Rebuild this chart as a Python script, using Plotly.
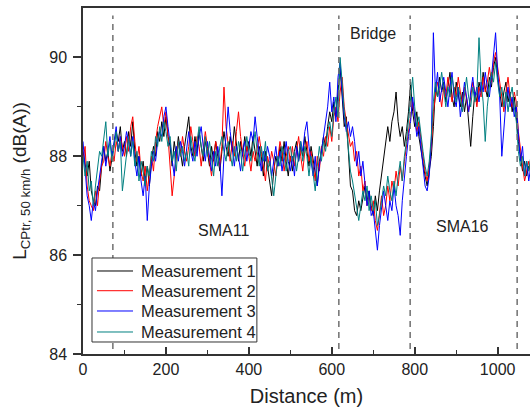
import plotly.graph_objects as go

distance = list(range(0, 1085, 5))

m1 = [
88.1, 87.8, 87.6, 87.9, 87.3, 87.1, 87.0, 87.4, 87.3, 87.8,
88.2, 87.9, 88.1, 87.7, 88.0, 88.2, 88.5, 88.3, 88.6, 88.1,
88.3, 88.0, 88.5, 88.2, 88.7, 88.1, 87.8, 88.0, 87.6, 87.9,
87.5, 87.8, 87.4, 87.9, 88.2, 88.0, 88.5, 88.3, 88.7, 88.4,
88.8, 88.4, 88.2, 87.8, 88.3, 88.0, 88.4, 88.1, 87.8, 88.2,
88.5, 88.8, 88.2, 88.0, 88.4, 88.1, 88.5, 88.2, 87.9, 88.3,
88.1, 87.8, 88.2, 87.9, 88.3, 88.0, 87.7, 88.1, 88.5, 88.2,
88.0, 88.4, 88.1, 88.6, 88.2, 87.9, 88.3, 88.0, 88.4, 88.1,
88.3, 88.0, 88.4, 88.1, 87.8, 88.2, 88.0, 87.6, 88.1, 87.8,
87.5, 87.2, 87.7, 88.0, 87.8, 88.2, 87.9, 88.3, 87.9, 87.6,
88.0, 87.7, 88.1, 88.3, 87.9, 88.2, 88.0, 88.4, 88.1, 87.8,
88.2, 87.9, 87.6, 87.4, 87.9, 88.1, 88.4, 88.2, 88.6, 88.9,
88.7, 89.1, 88.8, 89.4, 89.8, 89.2, 88.6, 88.8, 88.1, 87.4,
87.3, 86.9, 86.8, 87.1, 86.9, 87.2, 87.4, 87.1, 87.3, 87.0,
86.8, 87.2, 86.9, 87.3, 87.6, 87.9, 88.2, 88.6, 88.3, 88.7,
88.9, 89.3, 88.7, 88.4, 88.6, 88.2, 88.5, 88.9, 89.5, 88.9,
88.6, 88.9, 88.4, 88.1, 87.9, 87.6, 87.4, 87.7, 88.0, 88.6,
89.4, 89.2, 89.6, 89.3, 89.5, 89.1, 89.4, 89.7, 89.2, 89.0,
89.5, 89.2, 89.0, 89.3, 88.9, 89.2, 88.7, 88.2, 88.8, 89.3,
89.1, 89.5, 89.3, 89.7, 89.4, 89.2, 89.6, 89.4, 89.8, 90.0,
89.6, 89.3, 89.0, 89.3, 89.5, 89.1, 89.3, 88.9, 89.2, 88.8,
88.3, 88.0, 87.7, 87.9, 87.6, 87.8, 87.7]

m2 = [
87.9, 88.2, 87.4, 87.1, 87.0, 86.9, 87.3, 87.0, 87.5, 87.8,
87.9, 88.3, 88.0, 87.8, 88.1, 87.9, 88.3, 88.1, 88.4, 88.2,
88.0, 88.4, 88.1, 88.6, 88.8, 88.3, 87.9, 88.2, 87.7, 87.5,
87.8, 87.3, 87.6, 88.0, 87.7, 88.3, 88.6, 88.8, 89.0, 88.6,
88.9, 88.4, 87.8, 87.2, 87.6, 88.0, 88.3, 88.0, 88.4, 88.1,
87.9, 88.2, 88.6, 88.3, 88.0, 88.4, 88.2, 87.8, 88.1, 88.5,
88.2, 87.9, 87.6, 88.0, 88.3, 88.1, 87.8, 88.2, 89.4, 88.6,
88.2, 87.9, 88.3, 88.0, 88.5, 88.9, 88.4, 88.1, 87.8, 88.2,
88.0, 87.7, 88.1, 87.9, 88.2, 88.4, 88.1, 87.8, 87.5, 88.0,
87.8, 88.1, 87.9, 87.6, 88.0, 88.3, 88.1, 87.7, 88.0, 88.2,
87.9, 88.2, 87.8, 88.1, 88.4, 88.0, 87.7, 88.1, 88.3, 87.9,
88.1, 87.8, 87.5, 88.0, 87.7, 88.2, 88.0, 88.4, 88.2, 88.6,
88.3, 88.8, 89.0, 88.7, 89.3, 89.6, 89.0, 88.7, 88.4, 88.2,
88.3, 87.9, 88.1, 87.6, 87.8, 87.3, 87.5, 87.0, 87.2, 86.9,
87.1, 86.7, 86.5, 86.9, 87.2, 86.8, 87.0, 87.4, 87.1, 87.5,
87.3, 87.7, 87.4, 87.8, 87.5, 87.9, 88.2, 88.5, 88.8, 89.1,
88.8, 88.5, 88.7, 88.3, 88.0, 87.7, 87.5, 87.8, 88.2, 88.9,
89.2, 89.5, 89.3, 89.0, 89.4, 89.2, 89.6, 89.3, 89.1, 89.4,
89.2, 89.6, 89.3, 89.0, 89.4, 89.1, 88.9, 89.2, 89.5, 89.3,
89.0, 89.4, 89.2, 89.6, 89.3, 89.5, 89.8, 89.5, 89.9, 90.1,
89.8, 89.4, 89.2, 88.9, 89.3, 89.6, 89.2, 89.0, 89.3, 89.1,
88.5, 88.1, 87.8, 87.5, 87.7, 87.9, 87.6]

m3 = [
88.3, 87.7, 87.2, 87.0, 86.7, 87.1, 86.9, 87.3, 87.6, 88.0,
88.2, 87.8, 88.1, 88.4, 88.0, 88.3, 88.6, 88.1, 88.4, 88.0,
88.2, 88.5, 88.3, 88.0, 88.4, 87.9, 87.6, 88.0, 87.5, 87.2,
87.6, 86.7, 87.4, 87.8, 88.1, 87.9, 88.3, 88.5, 88.4, 88.8,
89.0, 88.6, 88.3, 88.0, 87.6, 88.2, 87.9, 88.3, 88.1, 87.8,
88.2, 88.5, 88.1, 87.9, 88.3, 88.0, 88.4, 88.6, 88.2, 87.9,
88.3, 88.0, 87.7, 88.1, 87.8, 88.2, 87.9, 87.2, 88.0, 88.4,
89.0, 88.5, 88.1, 87.8, 88.2, 88.0, 87.7, 88.1, 88.3, 87.9,
88.2, 88.5, 88.3, 88.8, 88.4, 88.0, 87.7, 88.1, 87.9, 88.2,
88.0, 87.6, 87.9, 88.2, 87.8, 88.1, 87.7, 88.0, 88.3, 87.9,
87.7, 88.0, 87.6, 88.2, 87.9, 88.3, 88.1, 88.5, 88.7, 88.2,
87.9, 87.6, 88.0, 87.4, 87.8, 88.1, 88.4, 88.6, 89.0, 89.5,
88.9, 89.2, 88.7, 89.6, 89.9, 89.3, 88.8, 88.5, 88.7, 88.4,
88.6, 88.3, 87.8, 88.1, 87.6, 87.9, 87.4, 87.0, 87.3, 86.8,
86.9, 86.5, 86.1, 86.6, 86.9, 87.3, 87.0, 86.7, 87.1, 86.9,
87.4, 87.0, 86.8, 86.4, 87.1, 87.6, 88.0, 88.4, 88.7, 89.2,
88.8, 88.4, 88.6, 88.2, 87.8, 87.4, 87.3, 87.6, 88.3, 90.5,
89.3, 89.7, 89.1, 89.4, 89.6, 89.3, 89.0, 89.4, 89.7, 89.2,
89.0, 89.4, 88.8, 89.1, 89.5, 89.2, 88.9, 89.3, 89.6, 89.2,
89.4, 89.1, 89.5, 89.3, 89.7, 89.4, 89.2, 89.6, 90.0, 90.5,
89.7, 89.2, 88.0, 88.6, 89.1, 89.4, 89.0, 89.2, 88.8, 89.0,
88.4, 87.9, 88.2, 87.6, 87.9, 87.5, 87.8]

m4 = [
88.0, 87.6, 87.9, 87.3, 87.5, 87.0, 87.4, 87.8, 88.1, 88.0,
88.4, 88.7, 88.0, 88.3, 87.9, 88.2, 88.5, 88.1, 88.3, 87.3,
87.7, 88.1, 88.4, 88.0, 88.3, 87.8, 88.1, 87.5, 87.9, 87.7,
87.4, 87.8, 87.6, 88.1, 87.9, 88.4, 88.2, 88.6, 88.3, 88.7,
88.5, 88.2, 88.4, 87.9, 88.1, 87.7, 88.3, 88.0, 88.2, 87.9,
88.1, 87.8, 88.4, 88.1, 87.9, 88.3, 88.6, 88.2, 88.0, 88.4,
88.0, 88.3, 87.9, 87.6, 88.1, 87.8, 88.2, 88.4, 88.1, 87.9,
88.3, 88.0, 87.8, 88.2, 87.9, 88.3, 88.1, 87.7, 88.0, 88.4,
88.1, 87.9, 88.2, 88.5, 88.1, 87.8, 88.2, 87.9, 88.3, 87.7,
87.9, 87.5, 87.2, 87.6, 88.0, 87.8, 88.2, 88.0, 87.7, 88.1,
88.2, 87.9, 88.1, 87.7, 88.0, 88.3, 87.9, 88.2, 88.0, 87.6,
88.0, 87.7, 87.3, 87.8, 88.2, 87.9, 88.3, 88.1, 88.5, 88.7,
88.4, 88.9, 89.2, 88.8, 90.0, 89.5, 88.9, 88.6, 88.2, 87.7,
87.5, 87.2, 86.9, 86.7, 87.0, 87.3, 87.1, 87.4, 86.9, 87.2,
86.9, 87.1, 86.6, 86.8, 87.1, 87.4, 87.2, 87.6, 87.3, 87.1,
87.5, 87.2, 87.6, 87.9, 87.5, 88.0, 88.3, 88.7, 89.1, 89.6,
89.0, 88.6, 88.8, 88.4, 88.1, 87.8, 87.6, 87.9, 88.4, 89.1,
89.5, 89.2, 89.4, 89.7, 89.3, 89.0, 89.4, 89.2, 89.6, 89.3,
89.1, 89.4, 89.2, 88.9, 89.3, 89.6, 89.2, 89.0, 89.4, 89.1,
89.3, 90.4, 89.5, 89.1, 88.3, 89.0, 89.4, 89.7, 89.5, 89.9,
89.5, 89.2, 89.4, 89.0, 89.3, 88.9, 89.2, 89.4, 89.0, 88.7,
88.1, 87.8, 88.0, 87.6, 87.9, 87.7, 88.0]

series_names = ["Measurement 1", "Measurement 2", "Measurement 3", "Measurement 4"]
series_colors = ["#000000", "#ff0000", "#0000ff", "#008080"]
section_bounds = [72, 617, 789, 1047]
labels = [("SMA11", 338, 86.5), ("Bridge", 700, 90.48), ("SMA16", 915, 86.57)]

FONT = "Arial, Liberation Sans, sans-serif"
TXT = "#222"

fig = go.Figure()
for name, ys, col in zip(series_names, [m1, m2, m3, m4], series_colors):
    fig.add_trace(go.Scatter(x=distance, y=ys, mode="lines", name=name,
                             line=dict(color=col, width=1), showlegend=False))

for xb in section_bounds:
    fig.add_shape(type="line", x0=xb, x1=xb, y0=84.1, y1=90.85, xref="x", yref="y",
                  line=dict(color="#707070", width=1.5, dash="6px,5px"), layer="above")

for txt, xx, yy in labels:
    fig.add_annotation(x=xx, y=yy, text=txt, showarrow=False,
                       font=dict(family=FONT, size=16, color=TXT))

# legend box drawn in paper coordinates
fig.add_shape(type="rect", xref="paper", yref="paper", x0=0.0201, x1=0.389,
              y0=0.0347, y1=0.2775, line=dict(color="#333", width=1),
              fillcolor="white", layer="above")
item_y = [0.2399, 0.1829, 0.1243, 0.0636]
for name, col, yy in zip(series_names, series_colors, item_y):
    fig.add_shape(type="line", xref="paper", yref="paper", x0=0.0313, x1=0.1119,
                  y0=yy, y1=yy, line=dict(color=col, width=1), layer="above")
    fig.add_annotation(xref="paper", yref="paper", x=0.1253, y=yy, text=name,
                       showarrow=False, xanchor="left", yanchor="middle",
                       font=dict(family=FONT, size=16.5, color=TXT))

fig.update_layout(
    width=530, height=418,
    margin=dict(l=83, r=0, t=8, b=64),
    paper_bgcolor="white", plot_bgcolor="white",
    font=dict(family=FONT, size=16, color=TXT),
    showlegend=False,
    xaxis=dict(range=[0, 1078], showgrid=False, zeroline=False, automargin=False,
               showline=True, linecolor="#333", linewidth=1.5, mirror=True,
               ticks="inside", ticklen=7, tickcolor="#333", tickwidth=1.5,
               tickvals=[0, 200, 400, 600, 800, 1000],
               minor=dict(tickvals=[100, 300, 500, 700, 900], ticks="inside",
                          ticklen=4, tickcolor="#333", tickwidth=1.2),
               tickfont=dict(size=16),
               title=dict(text="Distance (m)", font=dict(size=20), standoff=12)),
    yaxis=dict(range=[84, 91], showgrid=False, zeroline=False, automargin=False,
               showline=True, linecolor="#333", linewidth=1.5, mirror=False,
               ticks="outside", ticklen=8, tickcolor="#333", tickwidth=1.5,
               ticklabelstandoff=3,
               tickvals=[84, 86, 88, 90],
               minor=dict(tickvals=[85, 87, 89], ticks="outside",
                          ticklen=4, tickcolor="#333", tickwidth=1.2),
               tickfont=dict(size=16),
               title=dict(text="L<sub>CPtr, 50 km/h</sub> (dB(A))",
                          font=dict(size=19), standoff=18)),
)

fig.write_html("out.html", config={"displayModeBar": False},
               post_script="document.body.style.margin='0px';")
